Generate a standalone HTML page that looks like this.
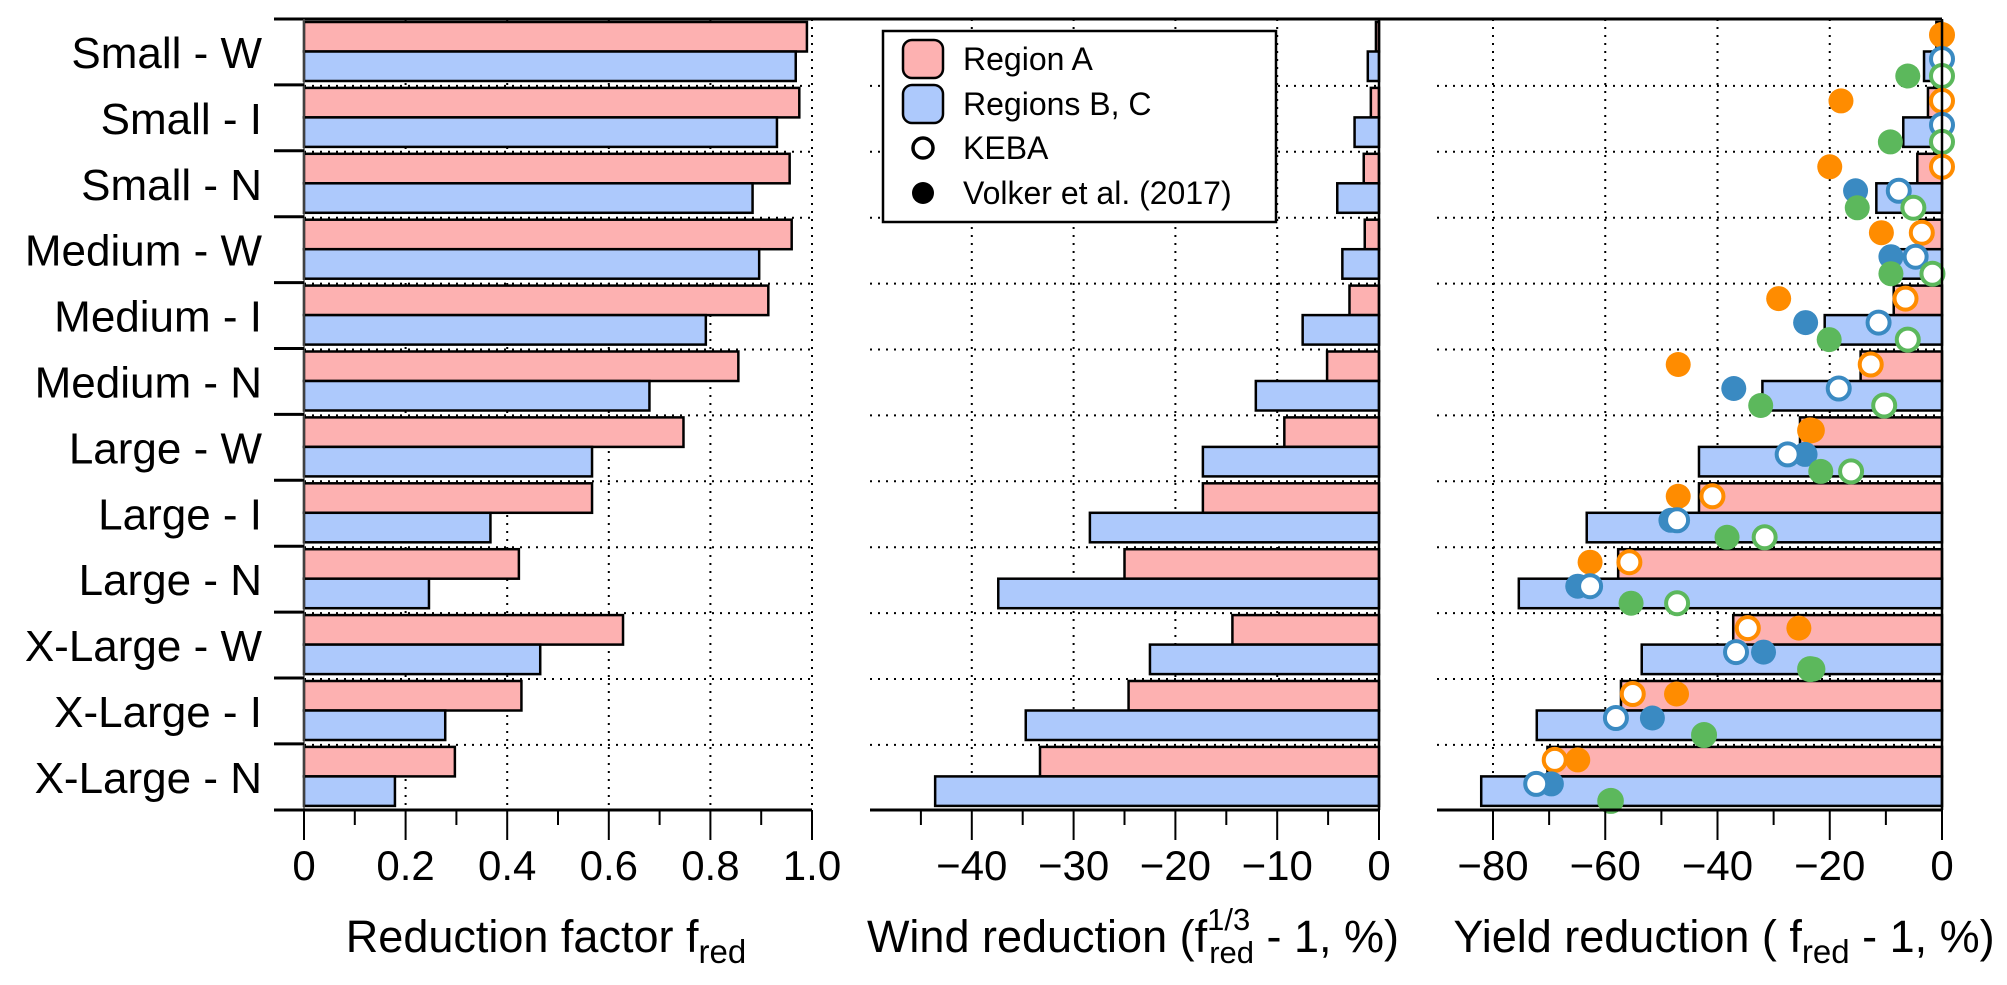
<!DOCTYPE html>
<html><head><meta charset="utf-8">
<style>
html,body{margin:0;padding:0;background:#fff;}
svg{display:block;font-family:"Liberation Sans",sans-serif;}
</style></head>
<body>
<svg id="chart" width="2007" height="985" viewBox="0 0 2007 985" xmlns="http://www.w3.org/2000/svg">
<g id="grid"></g>
<g id="bars"></g>
<g id="points"></g>
<g id="axes"></g>
<g id="legend">
  <rect x="883" y="31" width="393" height="191" fill="#fff" stroke="#000" stroke-width="2.5"/>
  <rect x="903" y="40" width="40" height="38" rx="9" fill="#fdb1b1" stroke="#000" stroke-width="2.5"/>
  <text x="963" y="70" font-size="32">Region A</text>
  <rect x="903" y="85" width="40" height="38" rx="9" fill="#adc9fc" stroke="#000" stroke-width="2.5"/>
  <text x="963" y="115" font-size="32">Regions B, C</text>
  <circle cx="923" cy="148" r="10" fill="#fff" stroke="#000" stroke-width="3.5"/>
  <text x="963" y="159" font-size="32">KEBA</text>
  <circle cx="923" cy="193" r="11" fill="#000"/>
  <text x="963" y="204" font-size="32">Volker et al. (2017)</text>
</g>
<text x="546" y="952" font-size="45" text-anchor="middle">Reduction factor f<tspan font-size="33" dy="11">red</tspan></text>
<text x="1133" y="952" font-size="45" text-anchor="middle">Wind reduction (f<tspan font-size="31" dy="-22">1/3</tspan><tspan font-size="31" dx="-41" dy="33">red</tspan><tspan dy="-11"> - 1, %)</tspan></text>
<text x="1724" y="952" font-size="45" text-anchor="middle">Yield reduction ( f<tspan font-size="33" dy="11">red</tspan><tspan dy="-11"> - 1, %)</tspan></text>
</svg>
<script>
const categories = ["Small - W","Small - I","Small - N","Medium - W","Medium - I","Medium - N","Large - W","Large - I","Large - N","X-Large - W","X-Large - I","X-Large - N"];
const fredA = [0.99,0.975,0.956,0.96,0.914,0.855,0.747,0.567,0.423,0.628,0.428,0.297];
const fredBC = [0.968,0.931,0.883,0.896,0.791,0.68,0.567,0.367,0.246,0.465,0.278,0.179];
const windA = [-0.3,-0.8,-1.5,-1.4,-2.9,-5.1,-9.3,-17.3,-25.0,-14.4,-24.6,-33.3];
const windBC = [-1.1,-2.4,-4.1,-3.6,-7.5,-12.1,-17.3,-28.4,-37.4,-22.5,-34.7,-43.6];
const yieldA = [-1,-2.5,-4.4,-4,-8.6,-14.5,-25.3,-43.3,-57.7,-37.2,-57.2,-70.3];
const yieldBC = [-3.2,-6.9,-11.7,-10.4,-20.9,-32,-43.3,-63.3,-75.4,-53.5,-72.2,-82.1];
const kebaOrange = [0,0,0,-3.6,-6.5,-12.7,-23.5,-40.9,-55.7,-34.6,-55.1,-69.0];
const kebaBlue = [0,0,-7.7,-4.7,-11.3,-18.4,-27.5,-47.2,-62.7,-36.7,-58.1,-72.3];
const kebaGreen = [0,0,-5.1,-1.7,-6.1,-10.3,-16.2,-31.6,-47.2,-23.5,-42.4,-59.0];
const volkerOrange = [0,-18.0,-20.0,-10.8,-29.1,-47.0,-23.1,-47.0,-62.7,-25.5,-47.3,-64.9];
const volkerBlue = [null,0,-15.4,-9.1,-24.3,-37.1,-24.4,-48.3,-64.9,-31.8,-51.6,-69.6];
const volkerGreen = [-6.1,-9.2,-15.1,-9.1,-20.1,-32.3,-21.6,-38.3,-55.4,-23.0,-42.4,-59.2];
const ticks1 = ["0","0.2","0.4","0.6","0.8","1.0"];
const ticks2 = ["\u221240","\u221230","\u221220","\u221210","0"];
const ticks3 = ["\u221280","\u221260","\u221240","\u221220","0"];

const NS="http://www.w3.org/2000/svg";
function mk(parent,tag,attrs){const e=document.createElementNS(NS,tag);for(const k in attrs)e.setAttribute(k,attrs[k]);parent.appendChild(e);return e;}
const top0=19, gh=65.9, bottom=810;
const x1=v=>304+v*508;
const x2=v=>1379+v*10.18;
const x3=v=>1942+v*5.6125;
const gy=i=>top0+gh*i;
const grid=document.getElementById('grid'), bars=document.getElementById('bars'), pts=document.getElementById('points'), axes=document.getElementById('axes');
const dot={stroke:"#000","stroke-width":2,"stroke-dasharray":"2 6"};
const panels=[[304,812],[870,1379],[1437,1942]];
for(let i=1;i<12;i++){
  panels.forEach(([a,b],p)=>{
    const l=mk(grid,'line',Object.assign({x1:a,x2:b,y1:gy(i)+1,y2:gy(i)+1},dot));
    
    
  });
}
[0.2,0.4,0.6,0.8,1.0].forEach(v=>{const l=mk(grid,'line',Object.assign({x1:x1(v),x2:x1(v),y1:top0,y2:bottom},dot));

});
[-40,-30,-20,-10].forEach(v=>{const l=mk(grid,'line',Object.assign({x1:x2(v),x2:x2(v),y1:top0,y2:bottom},dot));

});
[-80,-60,-40,-20].forEach(v=>{const l=mk(grid,'line',Object.assign({x1:x3(v),x2:x3(v),y1:top0,y2:bottom},dot));

});
function bar(xa,xb,y,h,fill,name){const a=Math.min(xa,xb),w=Math.abs(xb-xa);
  const r=mk(bars,'rect',{x:a,y:y,width:w,height:h,fill:fill,stroke:"#000","stroke-width":2.5});
  
  }
const pink="#fdb1b1", blue="#adc9fc";
categories.forEach((c,i)=>{
  const y=gy(i);
  bar(x1(0),x1(fredA[i]),y+3,29.5,pink,'bar-fred-a');
  bar(x1(0),x1(fredBC[i]),y+32.5,29.5,blue,'bar-fred-bc');
  bar(x2(0),x2(windA[i]),y+3,29.5,pink,'bar-wind-a');
  bar(x2(0),x2(windBC[i]),y+32.5,29.5,blue,'bar-wind-bc');
  bar(x3(0),x3(yieldA[i]),y+3,29.5,pink,'bar-yield-a');
  bar(x3(0),x3(yieldBC[i]),y+32.5,29.5,blue,'bar-yield-bc');
  const t=mk(axes,'text',{x:262,y:y+49,"font-size":44,"text-anchor":"end"});
  t.textContent=c;
  
  
});
const cOr="#ff8c00", cBl="#3a8ac2", cGr="#5cb85c";
function filled(v,y,col){if(v===null)return;const e=mk(pts,'circle',{cx:x3(v),cy:y,r:12.5,fill:col});
  
  }
function hollow(v,y,col){const e=mk(pts,'circle',{cx:x3(v),cy:y,r:11,fill:"#fff",stroke:col,"stroke-width":4});
  
  }
categories.forEach((c,i)=>{
  const y=gy(i);
  hollow(kebaOrange[i],y+16,cOr); filled(volkerOrange[i],y+16,cOr);
  filled(volkerBlue[i],y+40,cBl); hollow(kebaBlue[i],y+40,cBl);
  hollow(kebaGreen[i],y+57,cGr); filled(volkerGreen[i],y+57,cGr);
});
const ax=(a,b,c,d,w,col,name)=>{const l=mk(axes,'line',{x1:a,y1:b,x2:c,y2:d,stroke:col||"#000","stroke-width":w||3});
  
  };
ax(274,top0,1942,top0,3,"#000",'top-border');
ax(304,top0,304,bottom,1.5,"#555",'y-axis-line');
ax(1379,top0,1379,bottom,2.5,"#000",'zero-line-panel2');
ax(1942,top0,1942,bottom,2.5,"#000",'zero-line-panel3');
for(let i=1;i<12;i++) ax(274,gy(i),304,gy(i),3,"#000",'y-tick');
ax(274,bottom,812,bottom,3,"#000",'x-axis-panel1');
ax(870,bottom,1379,bottom,3,"#000",'x-axis-panel2');
ax(1437,bottom,1942,bottom,3,"#000",'x-axis-panel3');
function tickLabel(x,s){const t=mk(axes,'text',{x:x,y:880,"font-size":42,"text-anchor":"middle"});t.textContent=s;
  
  }
for(let k=0;k<=10;k++){const v=k/10;ax(x1(v),bottom,x1(v),k%2?825:840,2,"#000",'x-tick');}
ticks1.forEach((s,k)=>tickLabel(x1(k*0.2),s));
for(let v=-45;v<=0;v+=5){ax(x2(v),bottom,x2(v),v%10?825:840,2,"#000",'x-tick');}
ticks2.forEach((s,k)=>tickLabel(x2(-40+k*10),s));
for(let v=-80;v<=0;v+=10){ax(x3(v),bottom,x3(v),v%20?825:840,2,"#000",'x-tick');}
ticks3.forEach((s,k)=>tickLabel(x3(-80+k*20),s));
</script>
</body></html>
